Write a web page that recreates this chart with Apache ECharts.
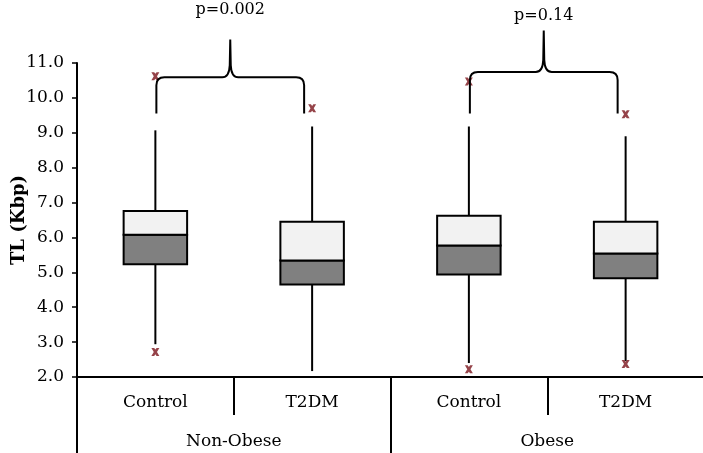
<!DOCTYPE html>
<html>
<head>
<meta charset="utf-8">
<script src="https://cdn.jsdelivr.net/npm/echarts@6/dist/echarts.min.js"></script>
<style>
html,body{margin:0;padding:0;background:#fff;}
#chart{width:703px;height:453px;}
</style>
</head>
<body>
<div id="chart"></div>
<script>
// ---- data ----
const categories = ['Control', 'T2DM', 'Control', 'T2DM'];
const groups = ['Non-Obese', 'Obese'];
const whiskerLow = [2.94, 2.17, 2.40, 2.46];
const q1 = [5.23, 4.65, 4.94, 4.83];
const median = [6.08, 5.34, 5.77, 5.54];
const q3 = [6.76, 6.45, 6.62, 6.45];
const whiskerHigh = [9.07, 9.18, 9.18, 8.90];
const outlierCat = [0, 0, 1, 2, 2, 3, 3];
const outlierVal = [10.62, 2.72, 9.70, 10.47, 2.22, 9.53, 2.37];
const yMin = 2, yMax = 11, yStep = 1;
const yAxisTitle = 'TL (Kbp)';
// significance braces
const braceFrom = [0, 2];
const braceTo = [1, 3];
const braceLeg = [9.55, 9.55];
const braceBar = [10.59, 10.74];
const bracePeak = [11.67, 11.93];
const pLabels = ['p=0.002', 'p=0.14'];
const pLabelY = [12.52, 12.36];

const FONT = '"DejaVu Serif", "Liberation Serif", serif';

const chart = echarts.init(document.getElementById('chart'));

const boxData = categories.map((c, i) => [i, whiskerLow[i], q1[i], median[i], q3[i], whiskerHigh[i]]);
const outlierData = outlierCat.map((c, i) => [c, outlierVal[i]]);
const braceData = braceFrom.map((f, i) => [f, braceTo[i], braceLeg[i], braceBar[i], bracePeak[i], pLabelY[i], i]);

function renderBox(params, api) {
  const x = api.value(0);
  const bw = api.size([1, 0])[0] * 0.405;
  const pLow = api.coord([x, api.value(1)]);
  const pQ1 = api.coord([x, api.value(2)]);
  const pMed = api.coord([x, api.value(3)]);
  const pQ3 = api.coord([x, api.value(4)]);
  const pHigh = api.coord([x, api.value(5)]);
  const cx = pLow[0];
  return {
    type: 'group',
    children: [
      { type: 'line', shape: { x1: cx, y1: pLow[1], x2: cx, y2: pHigh[1] },
        style: { stroke: '#000', lineWidth: 2 } },
      { type: 'rect', shape: { x: cx - bw / 2, y: pMed[1], width: bw, height: pQ1[1] - pMed[1] },
        style: { fill: '#808080', stroke: '#000', lineWidth: 2 } },
      { type: 'rect', shape: { x: cx - bw / 2, y: pQ3[1], width: bw, height: pMed[1] - pQ3[1] },
        style: { fill: '#f2f2f2', stroke: '#000', lineWidth: 2 } }
    ]
  };
}

function renderBrace(params, api) {
  const a = api.coord([api.value(0), api.value(2)]);
  const b = api.coord([api.value(1), api.value(2)]);
  const yLeg = a[1];
  const yBar = api.coord([api.value(0), api.value(3)])[1];
  const yPeak = api.coord([api.value(0), api.value(4)])[1];
  const yText = api.coord([api.value(0), api.value(5)])[1];
  const x0 = a[0] + 1;
  const x1 = b[0] - 8;
  const xm = (x0 + x1) / 2;
  const r = 8, r2 = 8;
  const d = 'M' + x0 + ',' + yLeg +
    ' L' + x0 + ',' + (yBar + r) +
    ' Q' + x0 + ',' + yBar + ' ' + (x0 + r) + ',' + yBar +
    ' L' + (xm - r2) + ',' + yBar +
    ' Q' + (xm - 1) + ',' + yBar + ' ' + (xm - 0.5) + ',' + (yBar - r2 - 4) +
    ' L' + xm + ',' + yPeak +
    ' L' + (xm + 0.5) + ',' + (yBar - r2 - 4) +
    ' Q' + (xm + 1) + ',' + yBar + ' ' + (xm + r2) + ',' + yBar +
    ' L' + (x1 - r) + ',' + yBar +
    ' Q' + x1 + ',' + yBar + ' ' + x1 + ',' + (yBar + r) +
    ' L' + x1 + ',' + yLeg;
  return {
    type: 'group',
    children: [
      { type: 'path', shape: { pathData: d },
        style: { fill: 'none', stroke: '#000', lineWidth: 2 } },
      { type: 'text', style: { text: pLabels[api.value(6)], x: xm, y: yText,
          align: 'center', verticalAlign: 'middle', fontFamily: FONT, fontSize: 16, fill: '#000' } }
    ]
  };
}

const xSymbol = 'path://M0,0 L3.5,0 L5,2 L6.5,0 L10,0 L7,5 L10,10 L6.5,10 L5,8 L3.5,10 L0,10 L3,5 Z';

chart.setOption({
  animation: false,
  backgroundColor: '#fff',
  grid: { left: 77, right: -1, top: 63, bottom: 76, outerBoundsMode: 'none', containLabel: false },
  xAxis: [
    {
      type: 'category', data: categories, position: 'bottom', boundaryGap: true,
      axisLine: { show: true, lineStyle: { color: '#000', width: 2 } },
      axisTick: { show: true, length: 38, lineStyle: { color: '#000', width: 2 } },
      axisLabel: { margin: 17, fontFamily: FONT, fontSize: 17, color: '#000' },
      splitLine: { show: false }
    },
    {
      type: 'category', data: groups, position: 'bottom', boundaryGap: true, offset: 0,
      axisLine: { show: false },
      axisTick: { show: true, length: 77, lineStyle: { color: '#000', width: 2 } },
      axisLabel: { margin: 56, fontFamily: FONT, fontSize: 17, color: '#000' },
      splitLine: { show: false }
    }
  ],
  yAxis: {
    type: 'value', min: yMin, max: yMax, interval: yStep,
    name: yAxisTitle, nameLocation: 'middle', nameRotate: 90, nameGap: 49,
    nameMoveOverlap: false,
    nameTextStyle: { fontFamily: FONT, fontSize: 18, fontWeight: 'bold', color: '#000' },
    axisLine: { show: true, lineStyle: { color: '#000', width: 2 } },
    axisTick: { show: true, length: 5, lineStyle: { color: '#000', width: 1.5 } },
    axisLabel: { margin: 13, fontFamily: FONT, fontSize: 17, color: '#000',
      formatter: v => v.toFixed(1) },
    splitLine: { show: false }
  },
  series: [
    { type: 'custom', xAxisIndex: 0, renderItem: renderBox, data: boxData, clip: false, z: 3 },
    { type: 'scatter', xAxisIndex: 0, data: outlierData, symbol: xSymbol, symbolSize: 8,
      itemStyle: { color: '#7a141b' }, z: 4 },
    { type: 'custom', xAxisIndex: 0, renderItem: renderBrace, data: braceData, clip: false, z: 5 }
  ]
});
</script>
</body>
</html>
